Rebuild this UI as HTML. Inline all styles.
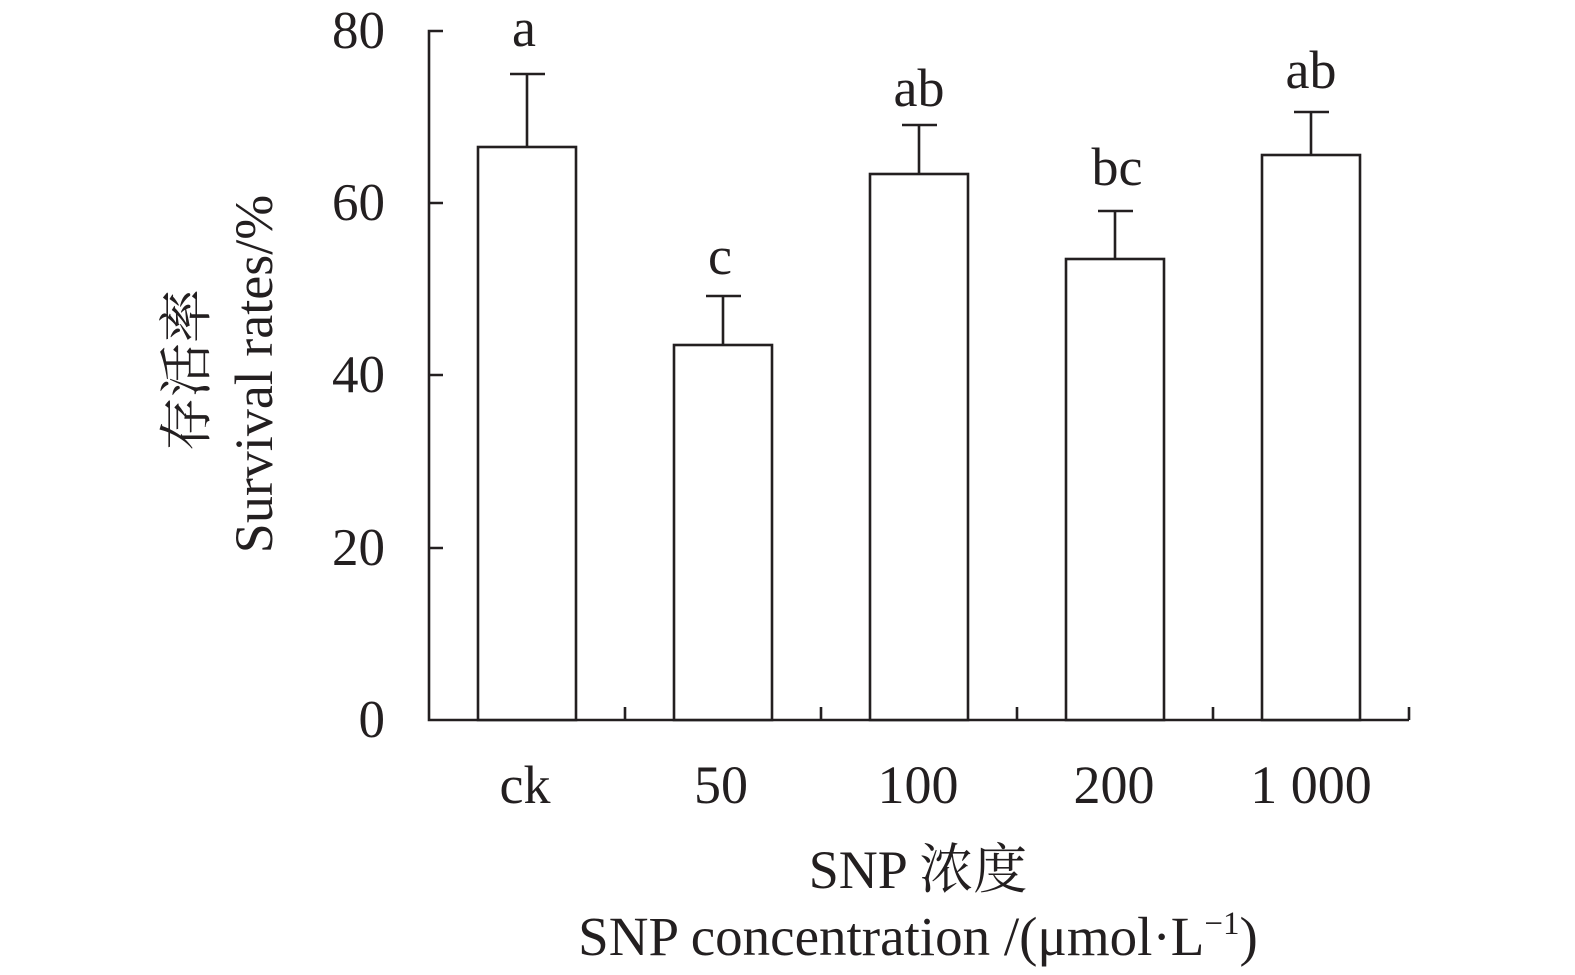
<!DOCTYPE html>
<html><head><meta charset="utf-8"><style>
html,body{margin:0;padding:0;background:#fff;}
svg{display:block;}
text{font-family:"Liberation Serif","Noto Serif CJK SC",serif;fill:#231f20;}
</style></head><body>
<svg width="1575" height="975" viewBox="0 0 1575 975" xmlns="http://www.w3.org/2000/svg">
<g stroke="#231f20" stroke-width="2.6" fill="none">
<path d="M443 31 H429 V720 H1409"/>
<path d="M429 203 H443 M429 375 H443 M429 548 H443"/>
<path d="M625 720 V707 M821 720 V707 M1017 720 V707 M1213 720 V707 M1409 720 V707"/>
<rect x="478" y="147" width="98" height="573" fill="#fff"/>
<rect x="674" y="345" width="98" height="375" fill="#fff"/>
<rect x="870" y="174" width="98" height="546" fill="#fff"/>
<rect x="1066" y="259" width="98" height="461" fill="#fff"/>
<rect x="1262" y="155" width="98" height="565" fill="#fff"/>
<path d="M527 147 V74 M510 74 H545"/>
<path d="M723 345 V296 M706 296 H741"/>
<path d="M919 174 V125 M902 125 H937"/>
<path d="M1115 259 V211 M1098 211 H1133"/>
<path d="M1311 155 V112 M1294 112 H1329"/>
</g>
<g font-size="53" text-anchor="end">
<text x="385" y="48">80</text>
<text x="385" y="220">60</text>
<text x="385" y="392">40</text>
<text x="385" y="565">20</text>
<text x="385" y="737">0</text>
</g>
<g font-size="54" text-anchor="middle">
<text x="524" y="46">a</text>
<text x="720" y="274">c</text>
<text x="919" y="106">ab</text>
<text x="1117" y="185">bc</text>
<text x="1311" y="88">ab</text>
<text x="525" y="803">ck</text>
<text x="721" y="803">50</text>
<text x="918" y="803">100</text>
<text x="1114" y="803">200</text>
<text x="1311" y="803">1 000</text>
<text x="918" y="888">SNP 浓度</text>
<text x="918" y="955" font-size="55">SNP concentration /(μmol·L<tspan font-size="33" dy="-21">−1</tspan><tspan dy="21">)</tspan></text>
</g>
<g font-size="54" text-anchor="middle">
<text transform="translate(205,370) rotate(-90)">存活率</text>
<text transform="translate(272,374) rotate(-90)">Survival rates/%</text>
</g>
</svg>
</body></html>
